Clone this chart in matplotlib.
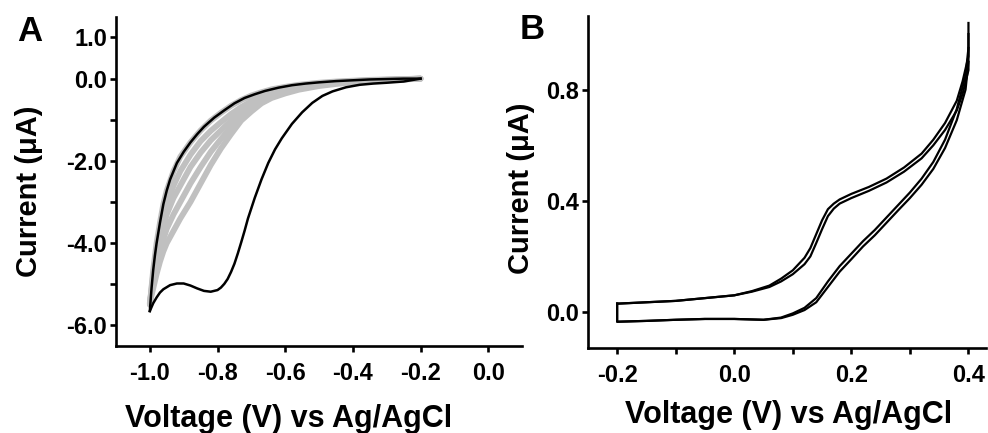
import matplotlib
matplotlib.use('Agg')
import matplotlib.pyplot as plt

plt.rcParams['font.family'] = ['Liberation Sans', 'DejaVu Sans']
plt.rcParams['font.weight'] = 'bold'

# ---- panel A: first cycle (black) ----
a_fwd_x = [-0.20, -0.25, -0.30, -0.34, -0.38, -0.42, -0.46, -0.49, -0.52, -0.55, -0.58,
           -0.61, -0.63, -0.65, -0.67, -0.69, -0.71, -0.72, -0.73, -0.74, -0.75, -0.76,
           -0.77, -0.78, -0.79, -0.80, -0.82, -0.84, -0.86, -0.88, -0.90, -0.92, -0.94,
           -0.96, -0.97, -0.98, -0.99, -1.0]
a_fwd_y = [0.0, -0.07, -0.10, -0.12, -0.15, -0.21, -0.31, -0.42, -0.59, -0.82, -1.1,
           -1.45, -1.72, -2.05, -2.45, -2.9, -3.4, -3.7, -3.98, -4.25, -4.5, -4.7,
           -4.87, -4.99, -5.08, -5.14, -5.18, -5.16, -5.1, -5.03, -4.98, -4.98, -5.02,
           -5.12, -5.2, -5.32, -5.46, -5.65]
a_rev_x = [-1.0, -0.995, -0.99, -0.985, -0.98, -0.975, -0.97, -0.96, -0.95, -0.94, -0.92,
           -0.90, -0.88, -0.86, -0.84, -0.81, -0.78, -0.75, -0.72, -0.69, -0.66, -0.62,
           -0.58, -0.54, -0.50, -0.45, -0.40, -0.35, -0.30, -0.25, -0.2]
a_rev_y = [-5.65, -5.1, -4.65, -4.3, -4.0, -3.75, -3.5, -3.05, -2.72, -2.45, -2.05,
           -1.78, -1.55, -1.35, -1.17, -0.95, -0.77, -0.6, -0.47, -0.38, -0.3, -0.22,
           -0.16, -0.12, -0.09, -0.06, -0.04, -0.02, -0.01, 0.0, 0.0]

# ---- panel A: later cycles (gray) ----
g_x = [-1.0, -0.99, -0.98, -0.97, -0.96, -0.95, -0.93, -0.91, -0.88, -0.85, -0.82,
       -0.79, -0.76, -0.73, -0.70, -0.67, -0.64, -0.60, -0.56, -0.50, -0.45, -0.40,
       -0.35, -0.30, -0.25, -0.20]
ga_y = [-5.5, -4.65, -4.0, -3.5, -3.05, -2.72, -2.25, -1.9, -1.55, -1.26, -1.02, -0.83,
        -0.66, -0.52, -0.41, -0.33, -0.26, -0.2, -0.15, -0.1, -0.07, -0.05, -0.03,
        -0.02, -0.01, 0.0]
gb_y = [-5.48, -4.75, -4.2, -3.75, -3.35, -3.05, -2.6, -2.25, -1.85, -1.52, -1.27,
        -1.06, -0.86, -0.69, -0.55, -0.44, -0.35, -0.26, -0.19, -0.12, -0.09, -0.06,
        -0.04, -0.025, -0.012, 0.0]
gc_y = [-5.47, -4.85, -4.35, -3.95, -3.6, -3.3, -2.9, -2.6, -2.15, -1.8, -1.5, -1.26,
        -1.02, -0.82, -0.65, -0.51, -0.4, -0.3, -0.22, -0.14, -0.1, -0.07, -0.05,
        -0.03, -0.015, 0.0]
gd_y = [-5.46, -4.95, -4.55, -4.2, -3.9, -3.65, -3.3, -3.0, -2.55, -2.15, -1.78, -1.47,
        -1.18, -0.92, -0.72, -0.55, -0.43, -0.33, -0.24, -0.16, -0.11, -0.08, -0.05,
        -0.035, -0.018, 0.0]
ge_y = [-5.45, -5.1, -4.75, -4.45, -4.2, -4.0, -3.7, -3.4, -3.0, -2.55, -2.1, -1.7,
        -1.35, -1.02, -0.8, -0.6, -0.47, -0.36, -0.27, -0.18, -0.13, -0.09, -0.06,
        -0.04, -0.02, 0.0]

a_xticks = [-1.0, -0.8, -0.6, -0.4, -0.2, 0.0]
a_xlabels = ['-1.0', '-0.8', '-0.6', '-0.4', '-0.2', '0.0']
a_yticks = [1, 0, -1, -2, -3, -4, -5, -6]
a_ylabels = ['1.0', '0.0', '', '-2.0', '', '-4.0', '', '-6.0']

# ---- panel B: two cycles ----
b_up_x = [-0.2, -0.15, -0.1, -0.05, 0.0, 0.03, 0.06, 0.08, 0.10, 0.12, 0.13, 0.14, 0.15,
          0.16, 0.17, 0.18, 0.20, 0.23, 0.26, 0.29, 0.32, 0.34, 0.36, 0.38, 0.39, 0.40, 0.40]
b_up1_y = [0.03, 0.035, 0.04, 0.05, 0.06, 0.075, 0.095, 0.12, 0.15, 0.195, 0.23, 0.28,
           0.33, 0.37, 0.39, 0.405, 0.425, 0.45, 0.48, 0.52, 0.57, 0.62, 0.68, 0.76,
           0.83, 0.92, 1.04]
b_up2_y = [0.03, 0.035, 0.04, 0.05, 0.06, 0.073, 0.09, 0.11, 0.136, 0.172, 0.2, 0.248,
           0.298, 0.345, 0.372, 0.39, 0.41, 0.436, 0.466, 0.505, 0.553, 0.6, 0.655,
           0.725, 0.785, 0.87, 1.0]
b_dn_x = [0.40, 0.395, 0.38, 0.36, 0.34, 0.32, 0.30, 0.28, 0.26, 0.24, 0.22, 0.20, 0.18,
          0.16, 0.14, 0.12, 0.10, 0.08, 0.05, 0.0, -0.05, -0.1, -0.15, -0.2, -0.2]
b_dn1_y = [0.95, 0.85, 0.73, 0.62, 0.54, 0.48, 0.43, 0.385, 0.34, 0.295, 0.255, 0.21,
           0.165, 0.11, 0.05, 0.015, -0.005, -0.02, -0.028, -0.025, -0.025, -0.028,
           -0.032, -0.035, 0.03]
b_dn2_y = [0.90, 0.80, 0.69, 0.59, 0.515, 0.458, 0.41, 0.366, 0.321, 0.276, 0.236, 0.19,
           0.145, 0.09, 0.035, 0.007, -0.01, -0.022, -0.028, -0.025, -0.025, -0.028,
           -0.032, -0.035, 0.03]

b_xticks = [-0.2, -0.1, 0.0, 0.1, 0.2, 0.3, 0.4]
b_xlabels = ['-0.2', '', '0.0', '', '0.2', '', '0.4']
b_yticks = [0.0, 0.4, 0.8]
b_ylabels = ['0.0', '0.4', '0.8']

fig = plt.figure(figsize=(9.88, 4.33), dpi=100)
ax1 = fig.add_axes([0.1174, 0.2009, 0.411, 0.760])
ax2 = fig.add_axes([0.595, 0.196, 0.403, 0.767])

gray = '#c0c0c0'
for gy in [ga_y, gb_y, gc_y, gd_y, ge_y]:
    ax1.plot(g_x, gy, color=gray, lw=4.2, solid_capstyle='round')
ax1.plot(a_fwd_x, a_fwd_y, color='black', lw=1.8)
ax1.plot(a_rev_x, a_rev_y, color='black', lw=1.8)

ax1.set_xlim(-1.1, 0.1)
ax1.set_ylim(-6.5, 1.5)
ax1.set_xticks(a_xticks)
ax1.set_xticklabels(a_xlabels)
ax1.set_yticks(a_yticks)
ax1.set_yticklabels(a_ylabels)

for yy in [b_up1_y, b_up2_y]:
    ax2.plot(b_up_x, yy, color='black', lw=1.6)
for yy in [b_dn1_y, b_dn2_y]:
    ax2.plot(b_dn_x, yy, color='black', lw=1.6)

ax2.set_xlim(-0.25, 0.43)
ax2.set_ylim(-0.13, 1.065)
ax2.set_xticks(b_xticks)
ax2.set_xticklabels(b_xlabels)
ax2.set_yticks(b_yticks)
ax2.set_yticklabels(b_ylabels)

for ax in (ax1, ax2):
    for s in ('top', 'right'):
        ax.spines[s].set_visible(False)
    for s in ('left', 'bottom'):
        ax.spines[s].set_linewidth(1.9)
    ax.tick_params(direction='out', length=4.5, width=1.9, labelsize=17, pad=2)
    for lab in ax.get_xticklabels() + ax.get_yticklabels():
        lab.set_fontweight('bold')
    ax.set_xlabel('Voltage (V) vs Ag/AgCl', fontsize=22, fontweight='bold')
    ax.set_ylabel('Current (\u03bcA)', fontsize=21, fontweight='bold')

ax1.tick_params(axis='x', pad=7)
ax2.tick_params(axis='x', pad=7)
ax1.xaxis.set_label_coords(0.426, -0.175)
ax1.yaxis.set_label_coords(-0.18, 0.471)
ax2.xaxis.set_label_coords(0.505, -0.155)
ax2.yaxis.set_label_coords(-0.133, 0.482)

fig.text(0.017, 0.965, 'A', fontsize=25, fontweight='bold', va='top')
fig.text(0.526, 0.97, 'B', fontsize=25, fontweight='bold', va='top')

fig.savefig('out.png', dpi=100)
